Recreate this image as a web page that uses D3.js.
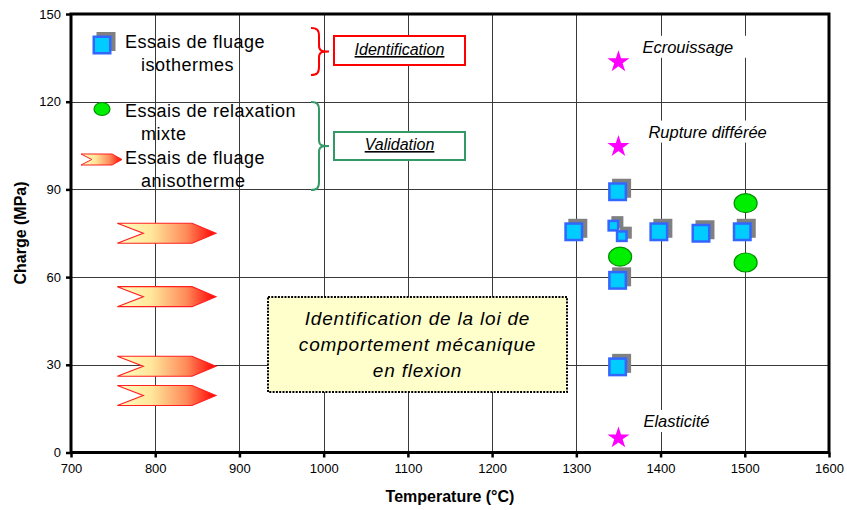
<!DOCTYPE html>
<html>
<head>
<meta charset="utf-8">
<script src="https://cdn.jsdelivr.net/npm/d3@7"></script>
<style>
  body { margin: 0; background: #fff; }
  text { font-family: "Liberation Sans", Arial, sans-serif; }
</style>
</head>
<body>
<svg id="chart" width="847" height="510"></svg>
<script>
// Axis ticks
const xTicks = [700, 800, 900, 1000, 1100, 1200, 1300, 1400, 1500, 1600];
const yTicks = [0, 30, 60, 90, 120, 150];

// Essais de fluage isothermes (temperature °C, charge MPa)
const isoTemp   = [1297, 1349, 1349, 1349, 1398, 1448, 1497];
const isoCharge = [75.5, 89.2, 58.9, 29.3, 75.5, 75.0, 75.5];
// two closely spaced isothermal tests, drawn with smaller markers
const isoSmallTemp   = [1344, 1354];
const isoSmallCharge = [77.6, 74.0];

// Essais de relaxation mixte
const relaxTemp   = [1352, 1501, 1501];
const relaxCharge = [67.0, 85.3, 65.0];

// Essais de fluage anisotherme: temperature ramp start / end, charge
const aniStart  = [755, 755, 755, 755];
const aniEnd    = [872, 872, 872, 872];
const aniCharge = [75.0, 53.3, 29.5, 19.5];

// Regimes of mechanical behaviour
const regimeTemp   = [1350, 1350, 1350];
const regimeCharge = [134, 105, 5.3];
const regimeLabels = ["Ecrouissage", "Rupture différée", "Elasticité"];

// Legend / annotation texts
const legendLines = [
  ["Essais de fluage", "isothermes"],
  ["Essais de relaxation", "mixte"],
  ["Essais de fluage", "anisotherme"]
];
const boxTitles = ["Identification", "Validation"];
const noteLines = ["Identification de la loi de", "comportement mécanique", "en flexion"];

const svg = d3.select("#chart");
const W = 847, H = 510;
const plot = { left: 71, right: 829, top: 14, bottom: 452.5 };

const x = d3.scaleLinear().domain([700, 1600]).range([plot.left, plot.right]);
const y = d3.scaleLinear().domain([0, 150]).range([plot.bottom, plot.top]);

svg.append("rect").attr("width", W).attr("height", H).attr("fill", "#fff");

// arrow gradient
const defs = svg.append("defs");
const grad = defs.append("linearGradient").attr("id", "arrowGrad")
  .attr("x1", "0%").attr("x2", "100%").attr("y1", "0%").attr("y2", "0%");
grad.append("stop").attr("offset", "0%").attr("stop-color", "#ffffc4");
grad.append("stop").attr("offset", "35%").attr("stop-color", "#ffe69a");
grad.append("stop").attr("offset", "70%").attr("stop-color", "#ff8a5a");
grad.append("stop").attr("offset", "100%").attr("stop-color", "#ff0000");

// grid
const grid = svg.append("g").attr("stroke", "#3a3a3a").attr("stroke-width", 1);
xTicks.slice(1, -1).forEach(t => {
  const px = Math.round(x(t)) + 0.5;
  grid.append("line").attr("x1", px).attr("x2", px).attr("y1", plot.top).attr("y2", plot.bottom);
});
yTicks.slice(1, -1).forEach(t => {
  const py = Math.round(y(t)) + 0.5;
  grid.append("line").attr("x1", plot.left).attr("x2", plot.right).attr("y1", py).attr("y2", py);
});

// regime labels with white background
const labelOffsets = [[24, -8], [30, -8], [25, -10]];
const regG = svg.append("g");
regimeLabels.forEach((lab, i) => {
  const tx = x(regimeTemp[i]) + labelOffsets[i][0];
  const ty = y(regimeCharge[i]) + labelOffsets[i][1];
  const bg = regG.append("rect").attr("fill", "#fff");
  const t = regG.append("text").attr("x", tx).attr("y", ty)
    .attr("font-size", 16.5).attr("font-style", "italic").attr("fill", "#000").text(lab);
  const bb = t.node().getBBox();
  bg.attr("x", bb.x - 6).attr("y", bb.y - 2).attr("width", bb.width + 20).attr("height", bb.height + 4);
});

// central note box
const note = svg.append("g");
note.append("rect").attr("x", 268).attr("y", 297).attr("width", 299).attr("height", 95)
  .attr("fill", "#ffffcc").attr("stroke", "#000").attr("stroke-width", 2)
  .attr("stroke-dasharray", "2,1.3");
noteLines.forEach((l, i) => {
  note.append("text").attr("x", 417.5).attr("y", 325 + i * 26)
    .attr("text-anchor", "middle").attr("font-size", 19).attr("font-style", "italic")
    .attr("letter-spacing", 0.8).text(l);
});

// arrow shape (chevron with notch)
function arrowPath(x0, x1, cy, h) {
  const w = x1 - x0;
  const notch = x0 + w * 0.263, head = x0 + w * 0.758;
  return `M${x0},${cy - h / 2} L${head},${cy - h / 2} L${x1},${cy} L${head},${cy + h / 2} L${x0},${cy + h / 2} L${notch},${cy} Z`;
}

svg.append("g").selectAll("path").data(aniCharge).join("path")
  .attr("d", (c, i) => arrowPath(x(aniStart[i]), x(aniEnd[i]), y(c), 20))
  .attr("fill", "url(#arrowGrad)").attr("stroke", "#ff2020").attr("stroke-width", 1.2);

// square markers with offset shadow
function squareMarker(g, cx, cy, s) {
  g.append("rect").attr("x", cx - s / 2 + 4).attr("y", cy - s / 2 - 3.5)
    .attr("width", s).attr("height", s).attr("fill", "#808080");
  g.append("rect").attr("x", cx - s / 2 + 1.25).attr("y", cy - s / 2 + 1.25)
    .attr("width", s - 2.5).attr("height", s - 2.5)
    .attr("fill", "#00ccff").attr("stroke", "#3366ff").attr("stroke-width", 2.5);
}
const sqG = svg.append("g");
isoTemp.forEach((t, i) => squareMarker(sqG, x(t), y(isoCharge[i]), 19));
isoSmallTemp.forEach((t, i) => squareMarker(sqG, x(t), y(isoSmallCharge[i]), 12));

// relaxation ellipses
svg.append("g").selectAll("ellipse").data(relaxCharge).join("ellipse")
  .attr("cx", (c, i) => x(relaxTemp[i])).attr("cy", c => y(c))
  .attr("rx", 11.5).attr("ry", 9.5)
  .attr("fill", "#00ee00").attr("stroke", "#008f00").attr("stroke-width", 1.2);

// regime stars
svg.append("g").selectAll("path").data(regimeCharge).join("path")
  .attr("d", d3.symbol(d3.symbolStar, 150))
  .attr("transform", (c, i) => `translate(${x(regimeTemp[i])},${y(c) + 1})`)
  .attr("fill", "#ff00ff");

// axes
const axG = svg.append("g").attr("font-family", "Liberation Sans, Arial, sans-serif");
const xAxis = axG.append("g").attr("transform", `translate(0,${plot.bottom})`)
  .call(d3.axisBottom(x).tickValues(xTicks).tickSize(5).tickPadding(6).tickFormat(d3.format("d")));
const yAxis = axG.append("g").attr("transform", `translate(${plot.left},0)`)
  .call(d3.axisLeft(y).tickValues(yTicks).tickSize(5).tickPadding(5).tickFormat(d3.format("d")));
[xAxis, yAxis].forEach(a => {
  a.select(".domain").remove();
  a.selectAll(".tick line").attr("stroke", "#000").attr("stroke-width", 2.5);
  a.selectAll(".tick text").attr("font-size", 13).attr("fill", "#000")
    .attr("font-family", "Liberation Sans, Arial, sans-serif");
});

// plot frame
svg.append("rect").attr("x", plot.left).attr("y", plot.top)
  .attr("width", plot.right - plot.left).attr("height", plot.bottom - plot.top)
  .attr("fill", "none").attr("stroke", "#000").attr("stroke-width", 3);

// axis titles
svg.append("text").attr("x", 450).attr("y", 502).attr("text-anchor", "middle")
  .attr("font-size", 16).attr("font-weight", "bold").text("Temperature (°C)");
svg.append("text").attr("transform", "translate(26,233) rotate(-90)").attr("text-anchor", "middle")
  .attr("font-size", 16).attr("font-weight", "bold").text("Charge (MPa)");

// legend
const leg = svg.append("g");
squareMarker(leg, 102, 45, 19);
leg.append("ellipse").attr("cx", 102).attr("cy", 109).attr("rx", 8).attr("ry", 6.5)
  .attr("fill", "#00ee00").attr("stroke", "#008f00").attr("stroke-width", 1.2);
leg.append("path").attr("d", arrowPath(81, 122, 159.5, 11))
  .attr("fill", "url(#arrowGrad)").attr("stroke", "#ff2020").attr("stroke-width", 1);
const legBase = [48, 117, 164];
legendLines.forEach((ls, i) => {
  leg.append("text").attr("x", 125).attr("y", legBase[i]).attr("font-size", 18)
    .attr("letter-spacing", 0.5).text(ls[0]);
  leg.append("text").attr("x", 141).attr("y", legBase[i] + 23).attr("font-size", 18)
    .attr("letter-spacing", 0.5).text(ls[1]);
});

// braces
function bracePath(x0, yTop, yBot, tipX) {
  const xm = x0 + 8, ym = (yTop + yBot) / 2;
  return `M${x0},${yTop} C${x0 + 6},${yTop} ${xm},${yTop + 2} ${xm},${yTop + 8}` +
    ` L${xm},${ym - 6} C${xm},${ym - 1} ${xm + 2},${ym} ${tipX},${ym}` +
    ` C${xm + 2},${ym} ${xm},${ym + 1} ${xm},${ym + 6}` +
    ` L${xm},${yBot - 8} C${xm},${yBot - 2} ${x0 + 6},${yBot} ${x0},${yBot}`;
}
leg.append("path").attr("d", bracePath(311, 28, 75, 329))
  .attr("fill", "none").attr("stroke", "#ff0000").attr("stroke-width", 2);
leg.append("path").attr("d", bracePath(311, 102, 190, 329))
  .attr("fill", "none").attr("stroke", "#339966").attr("stroke-width", 2);

const boxes = [
  { y: 36, h: 29, color: "#ff0000", base: 55 },
  { y: 132, h: 28, color: "#339966", base: 150 }
];
boxes.forEach((b, i) => {
  leg.append("rect").attr("x", 334).attr("y", b.y).attr("width", 131).attr("height", b.h)
    .attr("fill", "#fff").attr("stroke", b.color).attr("stroke-width", 2);
  leg.append("text").attr("x", 399.5).attr("y", b.base).attr("text-anchor", "middle")
    .attr("font-size", 16).attr("font-style", "italic").attr("text-decoration", "underline")
    .text(boxTitles[i]);
});
</script>
</body>
</html>
